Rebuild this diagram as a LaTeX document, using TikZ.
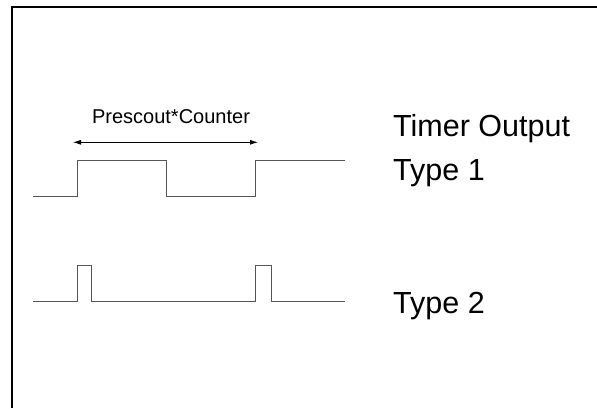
\documentclass[tikz,border=0pt]{standalone}
\usepackage{fontspec}
\setmainfont{Liberation Sans}
\definecolor{wavegray}{RGB}{85, 85, 85}
\usetikzlibrary{arrows.meta, positioning}

\begin{document}
\begin{tikzpicture}[x=1pt, y=1pt,
            frame/.style={line width=2pt, black},
            wave/.style={line width=1pt, wavegray},
            span/.style={{Latex[length=8pt,width=5pt]}-{Latex[length=8pt,width=5pt]}, line width=0.8pt},
            biglabel/.style={font=\fontsize{30.5}{36}\selectfont, inner sep=0pt, anchor=base west},
            smalllabel/.style={font=\fontsize{20}{24}\selectfont, inner sep=0pt, anchor=base}]
            \useasboundingbox (0,0) rectangle (597,408);

            % Frame
            \draw[frame] (12,0) -- (12,402);
            \draw[frame] (11,401) -- (597,401);

            % Type 1 waveform
            \draw[wave] (33,212) -- (77.3,212) -- (77.3,247.3) -- (166.7,247.3) -- (166.7,212)
                -- (255.7,212) -- (255.7,247.3) -- (345,247.3);

            % Type 2 waveform
            \draw[wave] (33,107) -- (77.3,107) -- (77.3,142.3) -- (91.7,142.3) -- (91.7,107)
                -- (255.7,107) -- (255.7,142.3) -- (271,142.3) -- (271,107) -- (345,107);

            % Period arrow
            \coordinate (pstart) at (73,265.7);
            \coordinate (pend) at (258,265.7);
            \draw[span] (pstart) -- (pend);
            \node[smalllabel] (period) at (171,284.5) {Prescout*Counter};

            % Labels
            \node[biglabel] (title) at (393,271.3) {Timer Output};
            \node[biglabel] (type1) at (393,228) {Type 1};
            \node[biglabel] (type2) at (393,94.7) {Type 2};
        \end{tikzpicture}
\end{document}
